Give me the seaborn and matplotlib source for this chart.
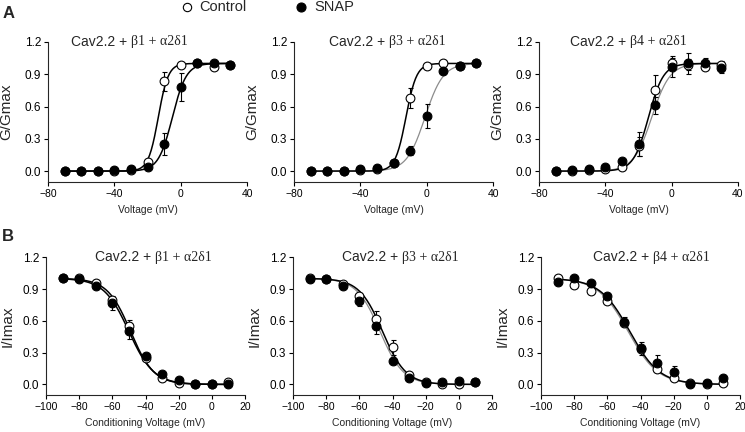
import numpy as np
import matplotlib
matplotlib.use('Agg')
import matplotlib.pyplot as plt
import seaborn as sns

# test potentials (mV)
act_voltage = [-70, -60, -50, -40, -30, -20, -10, 0, 10, 20, 30]
inact_voltage = [-90, -80, -70, -60, -50, -40, -30, -20, -10, 0, 10]

# A: activation, G/Gmax (mean and sem)
b1_act_control = [0.0, 0.0, 0.0, 0.005, 0.01, 0.08, 0.835, 0.985, 1.0, 0.97, 0.99]
b1_act_control_sem = [0, 0, 0, 0, 0.005, 0.01, 0.09, 0.02, 0.01, 0.02, 0.01]
b1_act_snap = [0.0, 0.0, 0.0, 0.01, 0.02, 0.04, 0.25, 0.78, 1.0, 1.0, 0.99]
b1_act_snap_sem = [0, 0, 0, 0, 0.005, 0.01, 0.10, 0.13, 0.01, 0.01, 0.01]

b3_act_control = [0.0, 0.0, 0.0, 0.01, 0.02, 0.075, 0.68, 0.98, 1.0, 0.98, 1.0]
b3_act_control_sem = [0, 0, 0, 0, 0.01, 0.01, 0.09, 0.02, 0.01, 0.01, 0.01]
b3_act_snap = [0.0, 0.005, 0.005, 0.015, 0.03, 0.075, 0.19, 0.51, 0.93, 0.98, 1.0]
b3_act_snap_sem = [0, 0, 0, 0, 0.01, 0.01, 0.04, 0.11, 0.02, 0.01, 0.01]

b4_act_control = [0.0, 0.0, 0.01, 0.015, 0.035, 0.23, 0.755, 1.0, 0.99, 0.97, 0.99]
b4_act_control_sem = [0, 0, 0, 0.01, 0.01, 0.09, 0.14, 0.05, 0.05, 0.03, 0.03]
b4_act_snap = [0.0, 0.01, 0.02, 0.04, 0.09, 0.25, 0.61, 0.97, 1.0, 1.0, 0.96]
b4_act_snap_sem = [0, 0.01, 0.01, 0.01, 0.02, 0.11, 0.08, 0.10, 0.10, 0.05, 0.05]

# B: steady-state inactivation, I/Imax (mean and sem)
b1_inact_control = [1.0, 1.0, 0.96, 0.80, 0.55, 0.25, 0.06, 0.013, 0.005, 0.0, 0.025]
b1_inact_control_sem = [0.01, 0.01, 0.02, 0.03, 0.06, 0.03, 0.02, 0.01, 0.01, 0.01, 0.01]
b1_inact_snap = [1.0, 0.99, 0.93, 0.766, 0.50, 0.266, 0.10, 0.044, 0.006, 0.0, 0.006]
b1_inact_snap_sem = [0.01, 0.01, 0.02, 0.06, 0.07, 0.03, 0.02, 0.01, 0.01, 0.01, 0.01]

b3_inact_control = [1.0, 0.99, 0.945, 0.83, 0.62, 0.35, 0.085, 0.02, 0.005, 0.005, 0.02]
b3_inact_control_sem = [0.01, 0.01, 0.02, 0.03, 0.07, 0.07, 0.02, 0.01, 0.01, 0.01, 0.01]
b3_inact_snap = [0.99, 0.99, 0.93, 0.79, 0.55, 0.22, 0.06, 0.015, 0.02, 0.03, 0.02]
b3_inact_snap_sem = [0.01, 0.01, 0.02, 0.05, 0.07, 0.03, 0.02, 0.01, 0.01, 0.01, 0.01]

b4_inact_control = [1.0, 0.94, 0.885, 0.79, 0.58, 0.33, 0.15, 0.057, 0.01, 0.0, 0.013]
b4_inact_control_sem = [0.01, 0.01, 0.02, 0.02, 0.03, 0.03, 0.02, 0.01, 0.01, 0.01, 0.01]
b4_inact_snap = [0.97, 1.0, 0.955, 0.835, 0.59, 0.34, 0.205, 0.113, 0.006, 0.016, 0.057]
b4_inact_snap_sem = [0.03, 0.01, 0.02, 0.03, 0.05, 0.06, 0.07, 0.065, 0.01, 0.01, 0.03]

# Boltzmann fit parameters (V1/2, slope k)
act_fits = {'b1': [(-13.5, 3.0), (-5.0, 4.2)],
            'b3': [(-12.5, 3.2), (-1.0, 5.5)],
            'b4': [(-14.0, 4.5), (-12.0, 5.5)]}
inact_fits = {'b1': [(-49.0, 7.0), (-50.0, 7.5)],
              'b3': [(-46.0, 7.0), (-47.5, 7.0)],
              'b4': [(-46.5, 9.0), (-47.5, 9.0)]}

subunits = ['b1', 'b3', 'b4']
subunit_labels = ['\u03b21 + \u03b12\u03b41', '\u03b23 + \u03b12\u03b41', '\u03b24 + \u03b12\u03b41']

act_data = {'b1': (b1_act_control, b1_act_control_sem, b1_act_snap, b1_act_snap_sem),
            'b3': (b3_act_control, b3_act_control_sem, b3_act_snap, b3_act_snap_sem),
            'b4': (b4_act_control, b4_act_control_sem, b4_act_snap, b4_act_snap_sem)}
inact_data = {'b1': (b1_inact_control, b1_inact_control_sem, b1_inact_snap, b1_inact_snap_sem),
              'b3': (b3_inact_control, b3_inact_control_sem, b3_inact_snap, b3_inact_snap_sem),
              'b4': (b4_inact_control, b4_inact_control_sem, b4_inact_snap, b4_inact_snap_sem)}

sns.set_style('ticks')
plt.rcParams['font.family'] = ['Liberation Sans', 'DejaVu Sans']


def boltzmann(v, vhalf, k, inactivation=False):
    if inactivation:
        return 1.0 / (1.0 + np.exp((v - vhalf) / k))
    return 1.0 / (1.0 + np.exp((vhalf - v) / k))


def draw_panel(ax, volt, data, fits, inactivation, snap_color, label, split):
    ctrl, ctrl_sem, snap, snap_sem = data
    vv = np.linspace(volt[0], volt[-1], 200)
    # fitted curves
    sns.lineplot(x=vv, y=boltzmann(vv, *fits[1], inactivation), ax=ax,
                 color=snap_color, lw=0.9 if snap_color != 'black' else 1.1)
    sns.lineplot(x=vv, y=boltzmann(vv, *fits[0], inactivation), ax=ax,
                 color='black', lw=1.1)
    # error bars
    ax.errorbar(volt, ctrl, yerr=ctrl_sem, fmt='none', ecolor='black',
                elinewidth=0.8, capsize=1.8, capthick=0.8, zorder=2)
    ax.errorbar(volt, snap, yerr=snap_sem, fmt='none', ecolor='black',
                elinewidth=0.8, capsize=1.8, capthick=0.8, zorder=2)
    # data points
    sns.scatterplot(x=volt, y=ctrl, ax=ax, s=40, color='white',
                    edgecolor='black', linewidth=0.8, zorder=3)
    sns.scatterplot(x=volt, y=snap, ax=ax, s=40, color='black',
                    edgecolor='black', linewidth=0.8, zorder=4)
    ax.set_ylim(-0.1, 1.2)
    ax.set_yticks([0.0, 0.3, 0.6, 0.9, 1.2])
    ax.set_yticklabels(['0.0', '0.3', '0.6', '0.9', '1.2'])
    for s in ['top', 'right']:
        ax.spines[s].set_visible(False)
    for s in ['left', 'bottom']:
        ax.spines[s].set_linewidth(0.8)
    ax.tick_params(direction='out', length=3, width=0.8, pad=2, colors='black')
    ax.tick_params(axis='y', labelsize=8.5)
    ax.tick_params(axis='x', labelsize=7.5)
    # two-font panel title
    t1 = ax.text(split, 1.0, 'Cav2.2 + ', transform=ax.transAxes,
                 ha='right', va='center', fontsize=10)
    ax.annotate(label, xy=(1, 0.5), xycoords=t1, ha='left', va='center',
                fontsize=10, family='Liberation Serif')


fig = plt.figure(figsize=(7.45, 4.32), dpi=100)

top_left = [48 / 745, 294 / 745, 539 / 745]
bot_left = [46 / 745, 293 / 745, 541 / 745]
width = 199 / 745
top_splits = [0.415, 0.475, 0.455]
bot_splits = [0.55, 0.55, 0.565]

for i, sub in enumerate(subunits):
    snap_color = 'black' if i == 0 else '#8c8c8c'

    ax = fig.add_axes([top_left[i], 0.579, width, 0.324])
    draw_panel(ax, act_voltage, act_data[sub], act_fits[sub], False,
               snap_color, subunit_labels[i], top_splits[i])
    ax.set_xlim(-80, 40)
    ax.set_xticks([-80, -40, 0, 40])
    ax.set_xlabel('Voltage (mV)', fontsize=7.5)
    ax.xaxis.set_label_coords(0.5, -0.165)
    ax.set_ylabel('G/Gmax', fontsize=11)
    ax.yaxis.set_label_coords(-0.175, 0.5)

    ax = fig.add_axes([bot_left[i], 0.0856, width, 0.319])
    draw_panel(ax, inact_voltage, inact_data[sub], inact_fits[sub], True,
               snap_color, subunit_labels[i], bot_splits[i])
    ax.set_xlim(-100, 20)
    ax.set_xticks([-100, -80, -60, -40, -20, 0, 20])
    ax.set_xlabel('Conditioning Voltage (mV)', fontsize=7.5)
    ax.xaxis.set_label_coords(0.5, -0.17)
    ax.set_ylabel('I/Imax', fontsize=11)
    ax.yaxis.set_label_coords(-0.16, 0.5)

# panel letters
fig.text(0.004, 0.985, 'A', fontsize=12, fontweight='bold', va='top', ha='left')
fig.text(0.002, 0.47, 'B', fontsize=12, fontweight='bold', va='top', ha='left')

# legend on top
fig.lines.append(plt.Line2D([187 / 745], [1 - 7 / 432], transform=fig.transFigure,
                            marker='o', ms=6, mfc='white', mec='black', mew=0.8, ls='none'))
fig.text(199 / 745, 1 - 7 / 432, 'Control', fontsize=10.5, va='center', ha='left')
fig.lines.append(plt.Line2D([301 / 745], [1 - 7 / 432], transform=fig.transFigure,
                            marker='o', ms=6.5, mfc='black', mec='black', mew=0.8, ls='none'))
fig.text(314 / 745, 1 - 7 / 432, 'SNAP', fontsize=10.5, va='center', ha='left')

fig.savefig('out.png', dpi=100)
